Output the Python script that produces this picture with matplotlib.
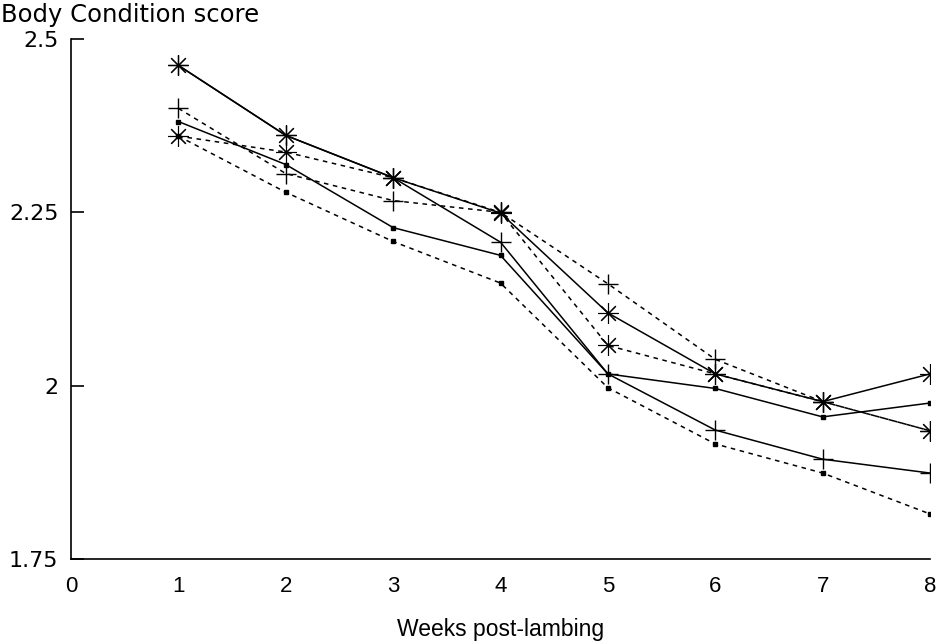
import matplotlib.pyplot as plt

# Body condition score per minggu setelah beranak
weeks = [1, 2, 3, 4, 5, 6, 7, 8]

star_solid = [2.462, 2.361, 2.300, 2.249, 2.105, 2.017, 1.977, 2.017]
star_dash = [2.360, 2.337, 2.300, 2.250, 2.058, 2.017, 1.977, 1.935]
plus_solid = [2.462, 2.361, 2.300, 2.207, 2.017, 1.936, 1.894, 1.874]
plus_dash = [2.400, 2.306, 2.267, 2.250, 2.147, 2.038, 1.977, 1.935]
sq_solid = [2.381, 2.319, 2.228, 2.188, 2.017, 1.996, 1.955, 1.975]
sq_dash = [2.360, 2.279, 2.208, 2.148, 1.997, 1.916, 1.874, 1.815]

xticks = [0, 1, 2, 3, 4, 5, 6, 7, 8]
yticks = [1.75, 2.0, 2.25, 2.5]
ylabels = ["1.75", "2", "2.25", "2.5"]

plt.rcParams["font.family"] = ["DejaVu Sans"]

fig = plt.figure(figsize=(9.38, 6.43), dpi=100)
ax = fig.add_axes([0.0757, 0.1306, 0.9158, 0.8087])

dash = (0, (3, 3))
ast = (8, 2, 0)
ax.plot(weeks, plus_solid, color="black", lw=1.1, ls="-", marker="+", ms=15, mew=1.0)
ax.plot(weeks, plus_dash, color="black", lw=1.1, ls=dash, marker="+", ms=15, mew=1.0)
ax.plot(weeks, sq_solid, color="black", lw=1.1, ls="-", marker="s", ms=3.5)
ax.plot(weeks, sq_dash, color="black", lw=1.1, ls=dash, marker="s", ms=3.5)
ax.plot(weeks, star_dash, color="black", lw=1.1, ls=dash, marker=ast, ms=15, mew=0.8)
ax.plot(weeks, star_solid, color="black", lw=1.1, ls="-", marker=ast, ms=15, mew=0.8)

ax.set_xlim(0, 8)
ax.set_ylim(1.75, 2.5)
ax.set_xticks(xticks)
ax.set_yticks(yticks)
ax.set_yticklabels(ylabels)
ax.spines["top"].set_visible(False)
ax.spines["right"].set_visible(False)
ax.spines["left"].set_linewidth(1.2)
ax.spines["bottom"].set_linewidth(1.2)
ax.tick_params(axis="y", direction="in", length=9, width=1.2, pad=9, labelsize=16)
ax.tick_params(axis="x", length=0, pad=12, labelsize=16)
for lbl in ax.get_xticklabels():
    lbl.set_family(["Liberation Sans Narrow", "Liberation Sans"])

ax.set_xlabel("Weeks post-lambing", fontsize=16.5, labelpad=15,
              family=["Liberation Sans Narrow", "Liberation Sans"])
fig.text(0.001, 1 - 15 / 643, "Body Condition score", fontsize=17.5, va="center", ha="left")

fig.savefig("out.png", dpi=100)
